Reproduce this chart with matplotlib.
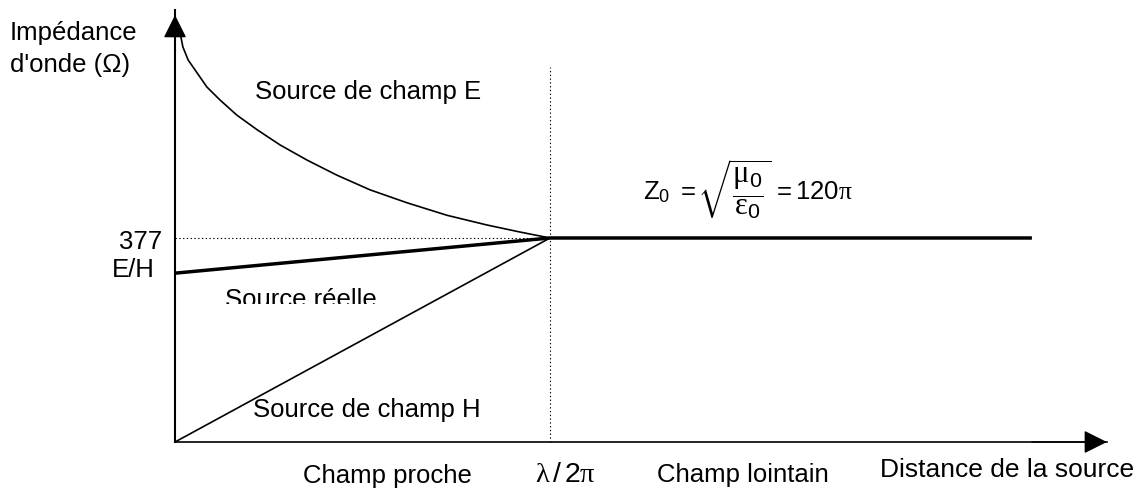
import matplotlib
matplotlib.use("Agg")
import matplotlib.pyplot as plt
from matplotlib.patches import Rectangle

plt.rcParams["font.family"] = ["Liberation Sans", "DejaVu Sans"]
plt.rcParams["mathtext.fontset"] = "custom"
plt.rcParams["mathtext.rm"] = "Liberation Sans"
plt.rcParams["mathtext.it"] = "Liberation Serif"

# --- data (x in units of lambda/2pi, y in ohms) ---
Z0 = 377
x_boundary = 1.0
x_axis_end = 2.485
y_axis_end = 789

# E-field source curve
e_x = [0.013, 0.021, 0.035, 0.059, 0.085, 0.120, 0.165, 0.219, 0.280,
       0.352, 0.432, 0.520, 0.619, 0.725, 0.832, 0.920, 1.0]
e_y = [758, 730, 706, 682, 656, 632, 604, 577, 549,
       521, 493, 466, 442, 419, 401, 388, 377]

# H-field source
h_x = [0.0, 1.0]
h_y = [0, 377]

# real source
real_x = [0.0, 1.0, 2.285]
real_y = [312, 377, 377]

dotted_top = 693

W, H = 1143, 490


def px(x, y):
    """Pixel position -> axes fraction."""
    return x / W, 1 - y / H


fig = plt.figure(figsize=(W / 100, H / 100), dpi=100)
ax = fig.add_axes([0, 0, 1, 1])
ax.set_xlim(-0.4667, 2.5813)
ax.set_ylim(-88.7, 816.8)
ax.axis("off")

# axes with arrows
ax.plot([0, 0], [0, y_axis_end + 10], color="black", lw=1.5)
ax.plot([0, x_axis_end], [0, 0], color="black", lw=1.2)
arrow = "-|>,head_length=1.0,head_width=0.5"
ax.annotate("", xy=(0, y_axis_end), xytext=(0, y_axis_end - 60),
            arrowprops=dict(arrowstyle=arrow, mutation_scale=14.4,
                            color="black", lw=1.0, shrinkA=0, shrinkB=0))
ax.annotate("", xy=(x_axis_end, 0), xytext=(x_axis_end - 0.2, 0),
            arrowprops=dict(arrowstyle=arrow, mutation_scale=14.4,
                            color="black", lw=1.0, shrinkA=0, shrinkB=0))

# dotted guides
dots = (0, (1.2, 2.2))
ax.plot([0, x_boundary], [Z0, Z0], color="black", lw=0.8, linestyle=dots)
ax.plot([x_boundary, x_boundary], [0, dotted_top], color="black", lw=0.8,
        linestyle=dots)

# curves
ax.plot(e_x, e_y, color="black", lw=1.2, solid_joinstyle="round")
ax.plot(h_x, h_y, color="black", lw=1.2)
ax.plot(real_x, real_y, color="black", lw=2.5, solid_capstyle="butt")

# labels
fs = 18.5
ax.text(*px(10, 40), "Impédance", transform=ax.transAxes,
        ha="left", va="baseline", fontsize=fs)
ax.text(*px(10, 72), "d'onde (Ω)", transform=ax.transAxes,
        ha="left", va="baseline", fontsize=fs)
ax.text(*px(255, 99), "Source de champ E", transform=ax.transAxes,
        ha="left", va="baseline", fontsize=fs)
ax.text(*px(253, 417), "Source de champ H", transform=ax.transAxes,
        ha="left", va="baseline", fontsize=fs)
t = ax.text(*px(225, 307), "Source réelle", transform=ax.transAxes,
            ha="left", va="baseline", fontsize=fs, clip_on=True)
t.set_clip_path(Rectangle((0, 1 - 304 / H), 1, 304 / H, transform=ax.transAxes))

ax.text(*px(162, 249), "377", transform=ax.transAxes,
        ha="right", va="baseline", fontsize=fs)
ax.text(*px(155, 277), "E/H", transform=ax.transAxes,
        ha="right", va="baseline", fontsize=fs)

# Z0 formula, in three pieces so the root can be drawn larger
ax.text(*px(643, 199), r"$\mathrm{Z}_0\ =$", transform=ax.transAxes,
        ha="left", va="baseline", fontsize=fs)
ax.text(*px(734, 190), r"$\sqrt{\dfrac{\mu_0}{\varepsilon_0}}$",
        transform=ax.transAxes, ha="center", va="center", fontsize=22)
ax.text(*px(772, 199), r"$=120\pi$", transform=ax.transAxes,
        ha="left", va="baseline", fontsize=fs)

ax.text(*px(303, 483), "Champ proche", transform=ax.transAxes,
        ha="left", va="baseline", fontsize=fs)
ax.text(*px(535, 482), r"$\lambda\,/\,2\pi$", transform=ax.transAxes,
        ha="left", va="baseline", fontsize=20.5)
ax.text(*px(657, 482), "Champ lointain", transform=ax.transAxes,
        ha="left", va="baseline", fontsize=fs)
ax.text(*px(880, 477), "Distance de la source", transform=ax.transAxes,
        ha="left", va="baseline", fontsize=19)

fig.savefig("out.png", dpi=100, facecolor="white")
